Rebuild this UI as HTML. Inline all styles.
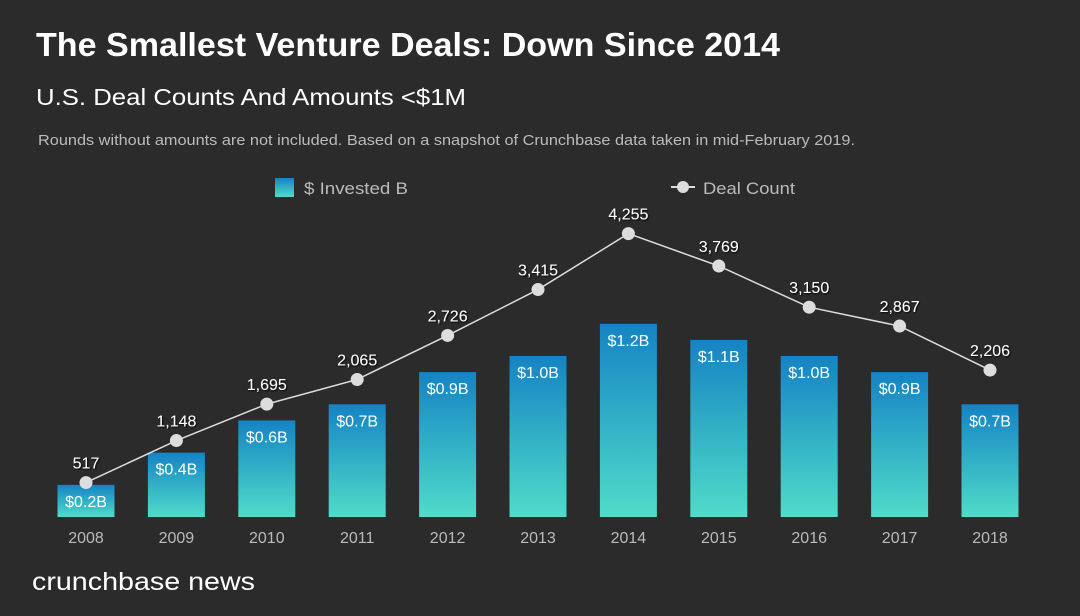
<!DOCTYPE html>
<html><head><meta charset="utf-8"><style>
body{margin:0;background:#2b2b2b;width:1080px;height:611px;overflow:hidden;font-family:"Liberation Sans",sans-serif}
</style></head><body>
<svg width="1080" height="611" xmlns="http://www.w3.org/2000/svg">
<defs><linearGradient id="g" x1="0" y1="0" x2="0" y2="1"><stop offset="0" stop-color="#1583c4"/><stop offset="1" stop-color="#4fdcc9"/></linearGradient>
<filter id="sh"><feDropShadow dx="1" dy="1" stdDeviation="0.8" flood-color="#000" flood-opacity="0.9"/></filter></defs>
<rect width="1080" height="611" fill="#2b2b2b"/>
<text x="36" y="56" fill="#fff" font-size="33" font-weight="bold" textLength="744" lengthAdjust="spacingAndGlyphs">The Smallest Venture Deals: Down Since 2014</text>
<text x="36" y="105" fill="#fff" font-size="23" textLength="430" lengthAdjust="spacingAndGlyphs">U.S. Deal Counts And Amounts &lt;$1M</text>
<text x="38" y="145" fill="#bbb" font-size="15" textLength="817" lengthAdjust="spacingAndGlyphs">Rounds without amounts are not included. Based on a snapshot of Crunchbase data taken in mid-February 2019.</text>
<rect x="275" y="178" width="19" height="19" fill="url(#g)"/>
<text x="304" y="194" fill="#bbb" font-size="17" textLength="104" lengthAdjust="spacingAndGlyphs">$ Invested B</text>
<line x1="671" y1="187" x2="695" y2="187" stroke="#ddd" stroke-width="2"/>
<circle cx="683" cy="187" r="6" fill="#ddd"/>
<text x="703" y="194" fill="#bbb" font-size="17" textLength="92" lengthAdjust="spacingAndGlyphs">Deal Count</text>
<g id="plot"></g>
<text x="32" y="590" fill="#fff" font-size="25" textLength="223" lengthAdjust="spacingAndGlyphs">crunchbase news</text>
</svg>
<script>
const years=["2008","2009","2010","2011","2012","2013","2014","2015","2016","2017","2018"];
const invested=[0.2,0.4,0.6,0.7,0.9,1.0,1.2,1.1,1.0,0.9,0.7];
const investedLabels=["$0.2B","$0.4B","$0.6B","$0.7B","$0.9B","$1.0B","$1.2B","$1.1B","$1.0B","$0.9B","$0.7B"];
const deals=[517,1148,1695,2065,2726,3415,4255,3769,3150,2867,2206];
const NS="http://www.w3.org/2000/svg";
const g=document.getElementById('plot');
const base=517;
const x=i=>86+i*90.4;
const yB=v=>base-v*161;
const yD=v=>base-v*0.0666;
function mk(t,a){const e=document.createElementNS(NS,t);for(const k in a)e.setAttribute(k,a[k]);g.appendChild(e);return e;}
years.forEach((yr,i)=>{
 const r=mk('rect',{x:x(i)-28.5,y:yB(invested[i]),width:57,height:base-yB(invested[i]),fill:'url(#g)'});
 
 
 const t=mk('text',{x:x(i),y:yB(invested[i])+22,fill:'#fff','font-size':16,'text-anchor':'middle'});t.textContent=investedLabels[i];
 
 
 const a=mk('text',{x:x(i),y:543,fill:'#bbb','font-size':16,'text-anchor':'middle'});a.textContent=yr;
 
 
});
const pl=mk('polyline',{points:deals.map((d,i)=>x(i)+','+yD(d)).join(' '),fill:'none',stroke:'#ddd','stroke-width':1.5});


deals.forEach((d,i)=>{
 const c=mk('circle',{cx:x(i),cy:yD(d),r:6.5,fill:'#ddd'});
 
 
 const t=mk('text',{x:x(i),y:yD(d)-14,fill:'#fff','font-size':16,'text-anchor':'middle',filter:'url(#sh)'});t.textContent=d.toLocaleString('en-US');
 
 
});
</script>
</body></html>
